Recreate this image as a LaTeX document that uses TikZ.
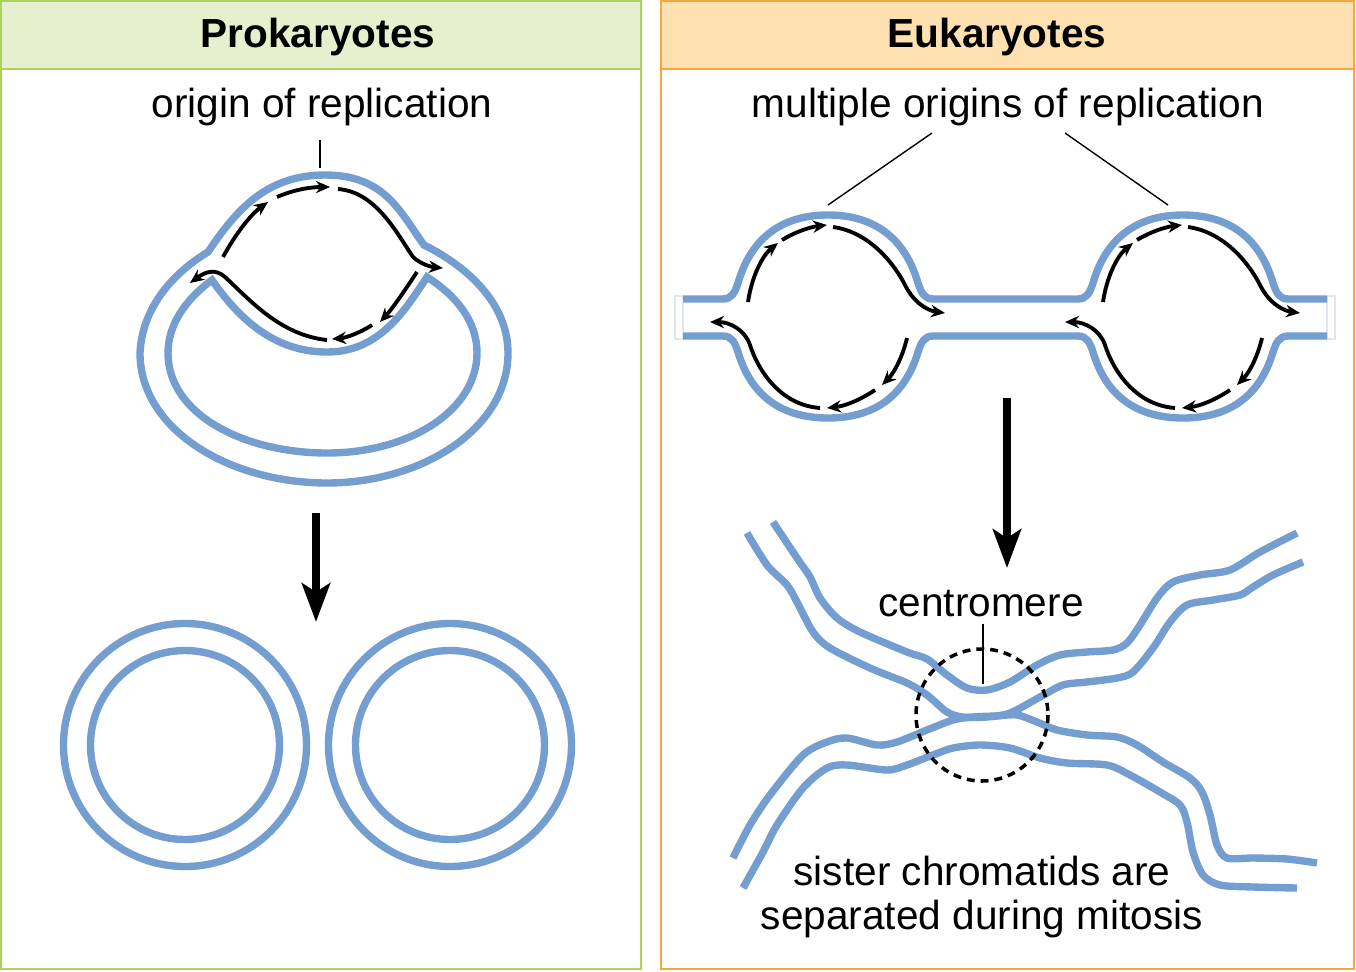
\documentclass[tikz,border=0pt]{standalone}
\usepackage{fontspec}
\setmainfont{Liberation Sans}
\usetikzlibrary{arrows.meta}
\definecolor{dna}{RGB}{115,158,207}
\definecolor{prokline}{RGB}{170,210,92}
\definecolor{prokfill}{RGB}{230,240,206}
\definecolor{eukline}{RGB}{246,168,60}
\definecolor{eukfill}{RGB}{255,225,177}
\definecolor{endcap}{RGB}{222,230,242}
\newcommand{\lblsize}{\fontsize{23.1}{25.5}\selectfont}
\tikzset{
  strand/.style={dna,line width=4.2pt},
  newdna/.style={line width=2.2pt,-{Stealth[length=8pt,width=7pt]}},
  gostep/.style={line width=4.5pt,-{Stealth[length=22pt,width=16pt,inset=5pt]}},
  pointer/.style={line width=0.8pt},
  lbltext/.style={font=\lblsize,inner sep=0pt},
}
\begin{document}
\begin{tikzpicture}[x=0.02cm,y=-0.02cm]
   \useasboundingbox (0,0) rectangle (1356,971);
   % 枠
   \draw[prokline,line width=1.4pt,fill=prokfill] (1,1) rectangle (641,69);
   \draw[prokline,line width=1.4pt] (1,69) rectangle (641,969);
   \draw[eukline,line width=1.4pt,fill=eukfill] (661,1) rectangle (1354,69);
   \draw[eukline,line width=1.4pt] (661,69) rectangle (1354,969);
   \node[lbltext,font=\lblsize\bfseries] (prokhead) at (318,37) {Prokaryotes};
   \node[lbltext,font=\lblsize\bfseries] (eukhead) at (997,37) {Eukaryotes};

   % 原核生物
   \node[lbltext] (prokori) at (322,107) {origin of replication};
   \coordinate (oriP) at (320,168);
   \draw[pointer] (320,140) -- (oriP);

   \draw[strand] (208,252) .. controls (235,212) and (265,175) .. (325,175)
      .. controls (385,175) and (400,212) .. (424,245)
      .. controls (470,268) and (508,305) .. (508,353)
      .. controls (508,430) and (420,483) .. (327,483)
      .. controls (230,483) and (140,430) .. (140,353)
      .. controls (142,310) and (170,275) .. cycle;
   \draw[strand] (212,280) .. controls (185,300) and (168,325) .. (168,353)
      .. controls (168,415) and (245,453) .. (327,453)
      .. controls (410,453) and (477,410) .. (477,353)
      .. controls (477,320) and (455,295) .. (427,277)
      .. controls (405,310) and (380,352) .. (327,352)
      .. controls (275,352) and (240,320) .. cycle;

   \draw[newdna] (223,257) .. controls (235,235) and (250,215) .. (268,202);
   \draw[newdna] (277,197) .. controls (293,190) and (310,187) .. (330,187);
   \draw[newdna] (338,189) .. controls (375,192) and (395,230) .. (413,257)
      .. controls (422,265) and (432,267) .. (443,268);
   \draw[newdna] (327,340) .. controls (280,335) and (250,300) .. (225,277)
      .. controls (215,268) and (205,272) .. (190,283);
   \draw[newdna] (417,272) .. controls (405,290) and (393,308) .. (380,322);
   \draw[newdna] (372,325) .. controls (360,333) and (345,338) .. (332,339);

   \coordinate (prokfrom) at (316,513);
   \coordinate (prokto) at (316,622);
   \draw[gostep] (prokfrom) -- (prokto);

   \draw[strand] (185,745) circle (121.5);
   \draw[strand] (185,745) circle (94.5);
   \draw[strand] (450,745) circle (121.5);
   \draw[strand] (450,745) circle (94.5);

   % 真核生物
   \node[lbltext] (eukori) at (1008,107) {multiple origins of replication};
   \coordinate (ori1) at (828,205);
   \coordinate (ori2) at (1168,205);
   \draw[pointer] (932,133) -- (ori1);
   \draw[pointer] (1065,133) -- (ori2);

   \draw[endcap,line width=0.6pt] (675,296) rectangle (683,339);
   \draw[endcap,line width=0.6pt] (1327,296) rectangle (1335,339);
   \draw[strand] (683,299) -- (723,299) .. controls (732,299) and (735,292) .. (738,283)
      .. controls (752,235) and (785,215) .. (828,215)
      .. controls (871,215) and (904,235) .. (918,283)
      .. controls (921,292) and (924,299) .. (933,299) -- (1078,299)
      .. controls (1087,299) and (1090,292) .. (1093,283)
      .. controls (1107,235) and (1140,215) .. (1183,215)
      .. controls (1226,215) and (1259,235) .. (1273,283)
      .. controls (1276,292) and (1279,299) .. (1288,299) -- (1327,299);
   \draw[strand] (683,336) -- (723,336) .. controls (732,336) and (735,343) .. (738,352)
      .. controls (752,399) and (785,418) .. (828,418)
      .. controls (871,418) and (904,399) .. (918,352)
      .. controls (921,343) and (924,336) .. (933,336) -- (1078,336)
      .. controls (1087,336) and (1090,343) .. (1093,352)
      .. controls (1107,399) and (1140,418) .. (1183,418)
      .. controls (1226,418) and (1259,399) .. (1273,352)
      .. controls (1276,343) and (1279,336) .. (1288,336) -- (1327,336);

   \foreach \dx in {0,355}{
     \begin{scope}[shift={(\dx,0)}]
       \draw[newdna] (748,302) .. controls (752,275) and (763,255) .. (778,243);
       \draw[newdna] (782,240) .. controls (795,232) and (810,227) .. (827,225);
       \draw[newdna] (833,227) .. controls (870,232) and (895,265) .. (905,285)
          .. controls (915,305) and (930,311) .. (945,313);
       \draw[newdna] (820,408) .. controls (780,405) and (758,370) .. (750,345)
          .. controls (745,330) and (730,322) .. (710,322);
       \draw[newdna] (907,338) .. controls (903,355) and (895,372) .. (882,385);
       \draw[newdna] (875,390) .. controls (860,400) and (845,406) .. (827,408);
     \end{scope}
   }

   \coordinate (eukfrom) at (1007,398);
   \coordinate (eukto) at (1007,568);
   \draw[gostep] (eukfrom) -- (eukto);

   % 姉妹染色分体
   \draw[strand] plot[smooth,tension=0.5] coordinates {(773,522) (797,558) (810,577)
      (820,598) (837,618) (860,632) (907,652) (927,659) (947,675) (967,688) (987,690)
      (1010,682) (1037,665) (1060,655) (1087,652) (1113,650) (1127,643) (1140,625)
      (1157,598) (1173,582) (1200,575) (1230,570) (1260,552) (1297,533)};
   \draw[strand] plot[smooth,tension=0.5] coordinates {(747,533) (767,565) (787,585)
      (797,602) (813,632) (830,648) (870,668) (907,683) (927,695) (947,712) (963,717)
      (987,717) (1010,713) (1040,697) (1063,685) (1087,682) (1117,678) (1133,672)
      (1153,648) (1170,622) (1187,605) (1213,600) (1240,595) (1253,587) (1273,575)
      (1303,562)};
   \draw[strand] plot[smooth,tension=0.5] coordinates {(733,858) (750,825) (770,795)
      (803,755) (827,742) (847,738) (877,745) (897,742) (927,730) (953,720) (973,717)
      (995,716) (1017,715) (1037,722) (1057,730) (1087,735) (1117,737) (1137,745)
      (1163,762) (1190,778) (1202,792) (1210,815) (1217,845) (1227,858) (1253,858)
      (1287,859) (1317,863)};
   \draw[strand] plot[smooth,tension=0.5] coordinates {(743,888) (763,852) (777,825)
      (803,788) (827,768) (847,765) (887,770) (907,765) (933,755) (953,748) (980,745)
      (1010,748) (1040,758) (1067,763) (1107,765) (1130,775) (1160,792) (1180,805)
      (1187,822) (1193,852) (1203,875) (1220,885) (1253,887) (1297,888)};

   \draw[line width=2pt,dash pattern=on 4.5pt off 3.4pt] (982,715) circle (66);
   \node[lbltext] (centro) at (981,604) {centromere};
   \coordinate (centroP) at (983,684);
   \draw[pointer] (983,624) -- (centroP);

   \node[lbltext,align=center] (sister) at (982,897)
      {sister chromatids are\\separated during mitosis};
\end{tikzpicture}
\end{document}
